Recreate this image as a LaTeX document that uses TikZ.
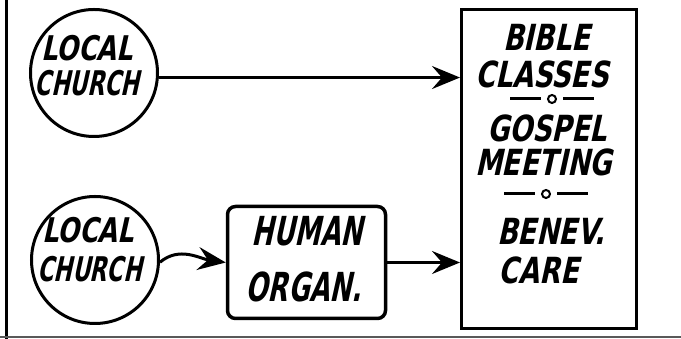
\documentclass[tikz,border=0pt]{standalone}
\usepackage{fontspec}
% slanted, narrow letters for the lettering
\newfontfamily\handfont[FakeStretch=0.75,FakeSlant=0.22]{DejaVu Sans}
\newfontfamily\handnarrow[FakeStretch=0.65,FakeSlant=0.22]{DejaVu Sans}
\usetikzlibrary{arrows.meta,positioning}

\tikzset{
  chart church/.style={circle,draw=black,line width=3pt,minimum size=127pt,inner sep=0pt},
  chart box/.style={rectangle,draw=black,line width=3pt,inner sep=0pt},
  chart flow/.style={-{Stealth[length=28pt,width=23pt,inset=10pt]},line width=3pt,draw=black},
  chart text/.style={inner sep=0pt,font=\handfont\bfseries\fontsize{36}{36}\selectfont},
  chart local/.style={chart text,font=\handfont\bfseries\fontsize{34}{34}\selectfont},
  chart name/.style={chart text,font=\handnarrow\bfseries\fontsize{34}{34}\selectfont},
  chart big/.style={chart text,font=\handnarrow\bfseries\fontsize{40}{40}\selectfont}
}

\begin{document}
\begin{tikzpicture}[x=1pt,y=1pt]
  \useasboundingbox (0,0) rectangle (681,339);
  % page edges
  \draw[line width=3pt] (6.5,0) -- (6.5,339);
  \draw[line width=2pt,black!65] (0,2) -- (681,2);

  % the two churches
  \node[chart church] (church1) at (94,266) {};
  \node[chart local] (local1) at (87,290.5) {LOCAL};
  \node[chart name] (chname1) at (87,255.5) {CHURCH};
  \node[chart church] (church2) at (95,79) {};
  \node[chart local] (local2) at (88,108.5) {LOCAL};
  \node[chart name] (chname2) at (89.5,70) {CHURCH};

  % organization in between
  \node[chart box,rounded corners=8pt,minimum width=158pt,minimum height=112pt,line width=3.5pt]
    (organ) at (306.5,76.5) {};
  \node[chart big] (human) at (307,108) {HUMAN};
  \node[chart big] (organname) at (303.5,52.5) {ORGAN.};

  % the works
  \node[chart box,minimum width=175pt,minimum height=319pt] (works) at (549,170) {};
  \node[chart text] (bible) at (546.5,301.5) {BIBLE};
  \node[chart text] (classes) at (542,265) {CLASSES};
  \node[chart text] (gospel) at (547,210.5) {GOSPEL};
  \node[chart text] (meeting) at (543.5,176.5) {MEETING};
  \node[chart text] (benev) at (551,108) {BENEV.};
  \node[chart text] (care) at (538.5,69) {CARE};
  \foreach \y/\x in {240/552,145/546}{
    \draw[line width=3pt] (\x-42,\y) -- (\x-11,\y);
    \draw[line width=2pt] (\x,\y) circle (4);
    \draw[line width=3pt] (\x+11,\y) -- (\x+42,\y);
  }

  % connectors
  \draw[chart flow] (church1.-4) -- (church1.-4 -| works.west);
  \draw[chart flow] (church2.-2) to[out=40,in=172] (organ.west);
  \draw[chart flow] (organ.east) -- (organ.east -| works.west);
\end{tikzpicture}
\end{document}
